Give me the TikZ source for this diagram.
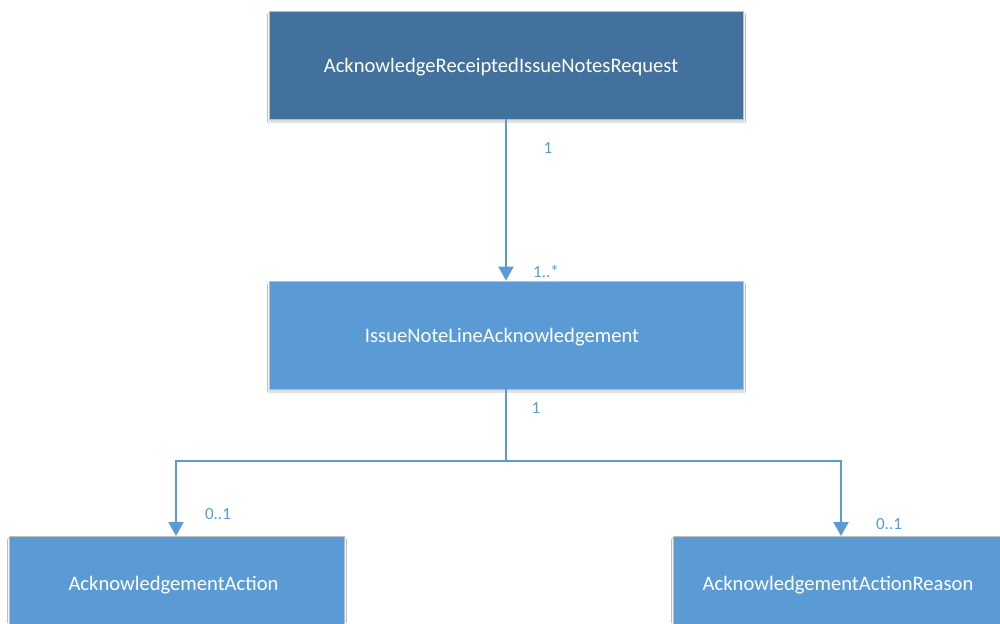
\documentclass[tikz,border=0pt]{standalone}
\usepackage{fontspec}
\setmainfont{Carlito}
\usetikzlibrary{arrows.meta,shadows.blur}
\definecolor{classdark}{HTML}{41719C}
\definecolor{classlight}{HTML}{5B9BD5}
\definecolor{classedge}{HTML}{BFBFBF}
\definecolor{linkblue}{HTML}{5B9BD5}
\tikzset{
  classbox/.style={draw=classedge, line width=0.8pt, fill=classlight, inner sep=0pt,
    blur shadow={shadow blur steps=6, shadow xshift=0.5pt, shadow yshift=-3pt, shadow opacity=18}},
  rootbox/.style={classbox, fill=classdark},
  classname/.style={text=white, font=\fontsize{20.6}{24}\selectfont, inner sep=0pt},
  link/.style={draw=linkblue, line width=2pt},
  linkarrow/.style={link, -{Triangle[width=15pt,length=14pt]}},
  mult/.style={text=linkblue, font=\fontsize{17}{20}\selectfont, inner sep=0pt}
}
\begin{document}
\begin{tikzpicture}[x=1pt,y=-1pt]
\useasboundingbox (0,0) rectangle (1000,623);
\clip (0,0) rectangle (1000,623);
\fill[white] (0,0) rectangle (1000,623);

% classes
\node[rootbox, minimum width=474pt, minimum height=108pt] (req) at (506,65) {};
\node[classname] (reqlbl) at (501,67) {AcknowledgeReceiptedIssueNotesRequest};
\node[classbox, minimum width=474pt, minimum height=108pt] (line) at (506,335) {};
\node[classname] (linelbl) at (502,337) {IssueNoteLineAcknowledgement};
\node[classbox, minimum width=335pt, minimum height=108pt, anchor=north] (act) at (176.5,536) {};
\node[classname] (actlbl) at (173.5,585) {AcknowledgementAction};
\node[classbox, minimum width=330pt, minimum height=108pt, anchor=north] (reason) at (838,536) {};
\node[classname] (reasonlbl) at (838,585) {AcknowledgementActionReason};

% associations
\draw[linkarrow] (req.south) -- (line.north);
\coordinate (split) at (506,461);
\coordinate (acttop) at (176,536);
\coordinate (reasontop) at (841,536);
\draw[link] (line.south) -- (split);
\draw[linkarrow] (split) -| (acttop);
\draw[linkarrow] (split) -| (reasontop);

% multiplicities
\node[mult] (m1) at (548,148) {1};
\node[mult] (m2) at (546,272) {1..*};
\node[mult] (m3) at (536,408) {1};
\node[mult] (m4) at (218,514) {0..1};
\node[mult] (m5) at (889,524) {0..1};
\end{tikzpicture}
\end{document}
